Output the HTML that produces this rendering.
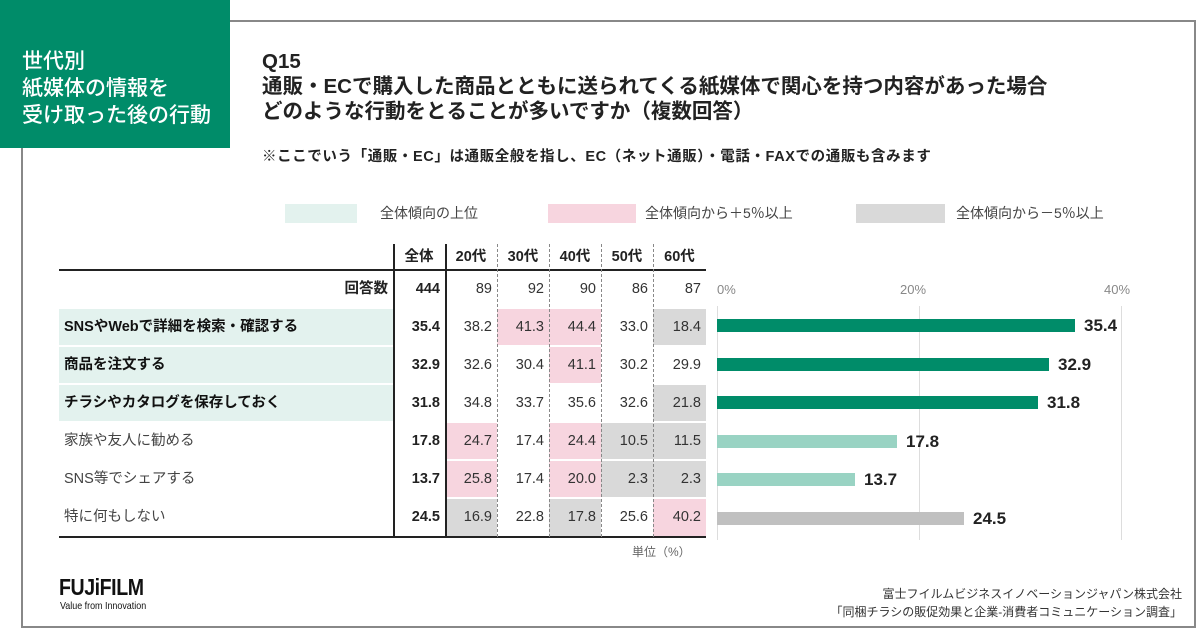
<!DOCTYPE html>
<html><head><meta charset="utf-8"><style>
*{margin:0;padding:0;box-sizing:border-box}
body{width:1200px;height:629px;background:#fff;position:relative;overflow:hidden;font-family:"Liberation Sans","Noto Sans CJK JP",sans-serif;color:#222}
.a{position:absolute;white-space:nowrap}
.cell{position:absolute;font-size:14.5px;text-align:right;padding-right:5px}
.bar{position:absolute;height:13px}
.bl{position:absolute;font-size:17px;font-weight:bold;color:#222;line-height:17px}
</style></head><body>
<div class="a" style="left:230px;top:20px;width:966px;height:2px;background:#888"></div>
<div class="a" style="left:1194px;top:20px;width:2px;height:608px;background:#888"></div>
<div class="a" style="left:21px;top:148px;width:2px;height:480px;background:#888"></div>
<div class="a" style="left:21px;top:626px;width:1175px;height:2px;background:#888"></div>
<div class="a" style="left:0;top:0;width:230px;height:148px;background:#008c69"></div>
<div class="a" style="left:22px;top:48px;color:#fff;font-size:21px;line-height:27px;font-weight:500">世代別<br>紙媒体の情報を<br>受け取った後の行動</div>
<div class="a" style="left:262px;top:49px;font-size:20.5px;line-height:25px;font-weight:bold;color:#222">Q15<br>通販・ECで購入した商品とともに送られてくる紙媒体で関心を持つ内容があった場合<br>どのような行動をとることが多いですか（複数回答）</div>
<div class="a" style="left:262px;top:147px;font-size:14.5px;font-weight:bold;line-height:20px;letter-spacing:0.6px;color:#222">※ここでいう「通販・EC」は通販全般を指し、EC（ネット通販）・電話・FAXでの通販も含みます</div>
<div class="a" style="left:285px;top:204px;width:72px;height:19px;background:#e3f2ee"></div>
<div class="a" style="left:380px;top:204px;font-size:14px;line-height:19px;color:#444">全体傾向の上位</div>
<div class="a" style="left:548px;top:204px;width:88px;height:19px;background:#f7d5df"></div>
<div class="a" style="left:645px;top:204px;font-size:14px;line-height:19px;color:#444">全体傾向から＋5％以上</div>
<div class="a" style="left:856px;top:204px;width:89px;height:19px;background:#d9d9d9"></div>
<div class="a" style="left:956px;top:204px;font-size:14px;line-height:19px;color:#444">全体傾向から－5％以上</div>
<div id="tbl"></div>
<div class="a" style="left:717px;top:306px;width:1px;height:234px;background:#ddd"></div>
<div class="a" style="left:919px;top:306px;width:1px;height:234px;background:#ddd"></div>
<div class="a" style="left:1121px;top:306px;width:1px;height:234px;background:#ddd"></div>
<div class="a" style="left:717px;top:282px;font-size:13px;color:#888">0%</div>
<div class="a" style="left:900px;top:282px;font-size:13px;color:#888">20%</div>
<div class="a" style="left:1104px;top:282px;font-size:13px;color:#888">40%</div>
<div class="bar" style="left:717px;top:319px;width:358px;background:#008c69"></div>
<div class="bl" style="left:1084px;top:317px">35.4</div>
<div class="bar" style="left:717px;top:358px;width:332px;background:#008c69"></div>
<div class="bl" style="left:1058px;top:356px">32.9</div>
<div class="bar" style="left:717px;top:396px;width:321px;background:#008c69"></div>
<div class="bl" style="left:1047px;top:394px">31.8</div>
<div class="bar" style="left:717px;top:435px;width:180px;background:#99d3c3"></div>
<div class="bl" style="left:906px;top:433px">17.8</div>
<div class="bar" style="left:717px;top:473px;width:138px;background:#99d3c3"></div>
<div class="bl" style="left:864px;top:471px">13.7</div>
<div class="bar" style="left:717px;top:512px;width:247px;background:#c0c0c0"></div>
<div class="bl" style="left:973px;top:510px">24.5</div>
<div class="a" style="left:632px;top:543px;font-size:12px;color:#666">単位（%）</div>
<div class="a" style="left:59px;top:574px;font-size:23px;font-weight:bold;letter-spacing:-0.5px;color:#111;transform:scaleX(0.85);transform-origin:left">FUJiFILM</div>
<div class="a" style="left:60px;top:600px;font-size:10.5px;color:#111;transform:scaleX(0.85);transform-origin:left">Value from Innovation</div>
<div class="a" style="left:782px;top:585px;width:400px;text-align:right;font-size:12px;line-height:18px;color:#333">富士フイルムビジネスイノベーションジャパン株式会社<br>「同梱チラシの販促効果と企業-消費者コミュニケーション調査」</div>
<script>
(function(){
var data=[
['SNSやWebで詳細を検索・確認する',1,'35.4',['38.2','41.3','44.4','33.0','18.4'],[0,1,1,0,2]],
['商品を注文する',1,'32.9',['32.6','30.4','41.1','30.2','29.9'],[0,0,1,0,0]],
['チラシやカタログを保存しておく',1,'31.8',['34.8','33.7','35.6','32.6','21.8'],[0,0,0,0,2]],
['家族や友人に勧める',0,'17.8',['24.7','17.4','24.4','10.5','11.5'],[1,0,1,2,2]],
['SNS等でシェアする',0,'13.7',['25.8','17.4','20.0','2.3','2.3'],[1,0,1,2,2]],
['特に何もしない',0,'24.5',['16.9','22.8','17.8','25.6','40.2'],[2,0,2,0,1]]];
var xs=[59,393,445,497,549,601,653,706];
var ys=[270,308,346,384,422,460,498,537];
var H='',top0=244;
var cols=['#fff','#f7d5df','#d9d9d9'];
H+='<div class="a" style="left:'+xs[0]+'px;top:'+(ys[0]-1)+'px;width:'+(xs[7]-xs[0])+'px;height:2px;background:#222"></div>';
H+='<div class="a" style="left:'+xs[0]+'px;top:'+(ys[7]-1)+'px;width:'+(xs[7]-xs[0])+'px;height:2px;background:#222"></div>';
var hd=['全体','20代','30代','40代','50代','60代'];
for(var i=0;i<6;i++)H+='<div class="a" style="left:'+xs[i+1]+'px;top:247px;width:'+(xs[i+2]-xs[i+1])+'px;text-align:center;font-size:14.5px;font-weight:bold;line-height:20px">'+hd[i]+'</div>';
var rh=ys[1]-ys[0];
H+='<div class="cell" style="left:'+xs[0]+'px;top:'+ys[0]+'px;width:'+(xs[1]-xs[0])+'px;height:'+rh+'px;line-height:'+rh+'px;font-weight:bold">回答数</div>';
var n=['444','89','92','90','86','87'];
for(var i=0;i<6;i++)H+='<div class="cell" style="left:'+xs[i+1]+'px;top:'+ys[0]+'px;width:'+(xs[i+2]-xs[i+1])+'px;height:'+rh+'px;line-height:'+rh+'px;'+(i==0?'font-weight:bold':'color:#333')+'">'+n[i]+'</div>';
for(var r=0;r<6;r++){
 var d=data[r],y=ys[r+1]+1,hh=ys[r+2]-ys[r+1]-2;
 H+='<div class="a" style="left:'+xs[0]+'px;top:'+y+'px;width:'+(xs[1]-xs[0])+'px;height:'+hh+'px;line-height:'+hh+'px;padding-left:5px;font-size:14.5px;background:'+(d[1]?'#e3f2ee':'#fff')+';'+(d[1]?'font-weight:bold;color:#111':'color:#444')+'">'+d[0]+'</div>';
 H+='<div class="cell" style="left:'+xs[1]+'px;top:'+y+'px;width:'+(xs[2]-xs[1])+'px;height:'+hh+'px;line-height:'+hh+'px;font-weight:bold">'+d[2]+'</div>';
 for(var i=0;i<5;i++)H+='<div class="cell" style="left:'+xs[i+2]+'px;top:'+y+'px;width:'+(xs[i+3]-xs[i+2])+'px;height:'+hh+'px;line-height:'+hh+'px;color:#333;background:'+cols[d[4][i]]+'">'+d[3][i]+'</div>';
}
H+='<div class="a" style="left:'+xs[1]+'px;top:'+top0+'px;width:1.5px;height:'+(ys[7]-top0)+'px;background:#222"></div>';
H+='<div class="a" style="left:'+xs[2]+'px;top:'+top0+'px;width:1.5px;height:'+(ys[7]-top0)+'px;background:#222"></div>';
for(var i=3;i<7;i++)H+='<div class="a" style="left:'+xs[i]+'px;top:'+top0+'px;width:0;height:'+(ys[7]-top0)+'px;border-left:1px dashed #888"></div>';
document.getElementById('tbl').innerHTML=H;
})();
</script>
</body></html>
